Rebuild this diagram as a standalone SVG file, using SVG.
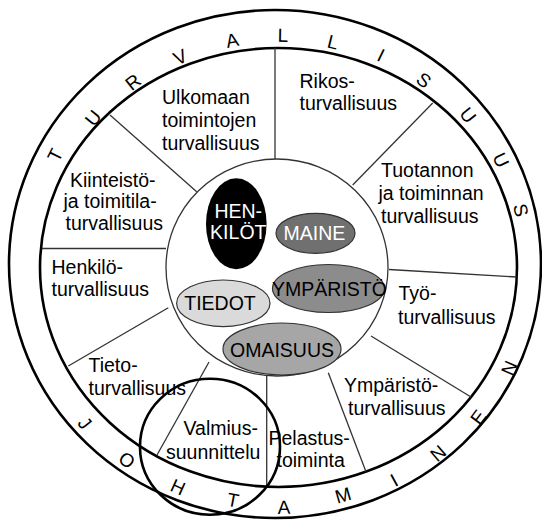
<svg xmlns="http://www.w3.org/2000/svg" width="542" height="521" viewBox="0 0 542 521">
<style>
text{font-family:"Liberation Sans",Arial,sans-serif;font-size:19.5px;fill:#000}
.ring{fill:none;stroke:#000;stroke-width:2.6}
.thin{fill:none;stroke:#333;stroke-width:1.3}
.div{stroke:#333;stroke-width:1.3;fill:none}
.band{font-size:19px;text-anchor:middle}
.core{text-anchor:middle}
.ell{stroke:#333;stroke-width:1.2}
</style>
<rect width="542" height="521" fill="#fff"/>
<g id="rings">
<ellipse class="ring" cx="275" cy="264" rx="266" ry="254"/>
<ellipse class="ring" cx="278.5" cy="267.5" rx="238.5" ry="219.5"/>
<ellipse class="thin" cx="277" cy="267.5" rx="111" ry="108.5"/>
</g>
<g id="connectors">
<line class="div" x1="275" y1="48" x2="275" y2="159"/>
<line class="div" x1="432.7" y1="103" x2="352.7" y2="185"/>
<line class="div" x1="389" y1="269.5" x2="516.5" y2="277"/>
<line class="div" x1="371" y1="336" x2="471" y2="397"/>
<line class="div" x1="328.3" y1="372.7" x2="366" y2="471.7"/>
<line class="div" x1="266.7" y1="376" x2="266.7" y2="487"/>
<line class="div" x1="209" y1="362" x2="157" y2="455"/>
<line class="div" x1="168.3" y1="307.7" x2="68.3" y2="366"/>
<line class="div" x1="42" y1="248.5" x2="166" y2="248.5"/>
<line class="div" x1="110" y1="115" x2="196.7" y2="191.7"/>
</g>
<g id="band-top">
<text class="band" transform="translate(55,155) rotate(-63.3)" y="6.8">T</text>
<text class="band" transform="translate(93,118) rotate(-51.2)" y="6.8">U</text>
<text class="band" transform="translate(133,82) rotate(-38.1)" y="6.8">R</text>
<text class="band" transform="translate(180,57) rotate(-25)" y="6.8">V</text>
<text class="band" transform="translate(232,40) rotate(-11.5)" y="6.8">A</text>
<text class="band" transform="translate(283,35) rotate(1.2)" y="6.8">L</text>
<text class="band" transform="translate(333,42) rotate(13.7)" y="6.8">L</text>
<text class="band" transform="translate(381,55) rotate(25.9)" y="6.8">I</text>
<text class="band" transform="translate(424,80) rotate(38)" y="6.8">S</text>
<text class="band" transform="translate(468,115) rotate(51.3)" y="6.8">U</text>
<text class="band" transform="translate(501,160) rotate(64.4)" y="6.8">U</text>
<text class="band" transform="translate(521,210) rotate(76.8)" y="6.8">S</text>
</g>
<g id="band-bottom">
<text class="band" transform="translate(85,423) rotate(51.1)" y="6.8">J</text>
<text class="band" transform="translate(127,460) rotate(38)" y="6.8">O</text>
<text class="band" transform="translate(178,487) rotate(24.4)" y="6.8">H</text>
<text class="band" transform="translate(233,500) rotate(10.9)" y="6.8">T</text>
<text class="band" transform="translate(284,507) rotate(-1.4)" y="6.8">A</text>
<text class="band" transform="translate(343,495) rotate(-15.9)" y="6.8">M</text>
<text class="band" transform="translate(394,480) rotate(-28.6)" y="6.8">I</text>
<text class="band" transform="translate(438,453) rotate(-40.7)" y="6.8">N</text>
<text class="band" transform="translate(478,417) rotate(-53.1)" y="6.8">E</text>
<text class="band" transform="translate(509,368) rotate(-66.4)" y="6.8">N</text>
</g>
<g id="ulkomaan"><text x="162" y="104">Ulkomaan</text><text x="162" y="127">toimintojen</text><text x="162" y="149.5">turvallisuus</text></g>
<g id="rikos"><text x="299.5" y="87.5">Rikos-</text><text x="299.5" y="110">turvallisuus</text></g>
<g id="tuotannon"><text x="381" y="177">Tuotannon</text><text x="378.5" y="200">ja toiminnan</text><text x="381" y="222.5">turvallisuus</text></g>
<g id="kiinteisto"><text x="70" y="186.5">Kiinteistö-</text><text x="63.5" y="207.5">ja toimitila-</text><text x="65.5" y="229.5">turvallisuus</text></g>
<g id="henkilo"><text x="51.5" y="273.5">Henkilö-</text><text x="51.5" y="296">turvallisuus</text></g>
<g id="tieto"><text x="88.5" y="372">Tieto-</text><text x="88.5" y="395">turvallisuus</text></g>
<g id="valmius"><text x="183.5" y="435">Valmius-</text><text x="166" y="459">suunnittelu</text></g>
<g id="pelastus"><text x="268.5" y="445">Pelastus-</text><text x="276.5" y="467">toiminta</text></g>
<g id="ymparisto-turv"><text x="344" y="391.5">Ympäristö-</text><text x="348" y="415">turvallisuus</text></g>
<g id="tyo"><text x="398.5" y="300">Työ-</text><text x="398" y="323.5">turvallisuus</text></g>
<g id="henkilot"><ellipse cx="236.3" cy="223.8" rx="30.3" ry="45.5" fill="#000"/><text class="core" x="238.3" y="218" style="fill:#fff">HEN-</text><text class="core" x="238.3" y="238.5" style="fill:#fff">KILÖT</text></g>
<g id="maine"><ellipse class="ell" cx="315.5" cy="233.3" rx="39.5" ry="20" fill="#707070"/><text class="core" x="314.5" y="240.3" style="fill:#fff">MAINE</text></g>
<g id="ymparisto"><ellipse class="ell" cx="328.5" cy="288.5" rx="56" ry="24" fill="#8c8c8c"/><text class="core" x="329.5" y="295.5">YMPÄRISTÖ</text></g>
<g id="tiedot"><ellipse class="ell" cx="223.3" cy="303.3" rx="46.7" ry="23.3" fill="#dadada"/><text class="core" x="220" y="310.3">TIEDOT</text></g>
<g id="omaisuus"><ellipse class="ell" cx="282" cy="349" rx="59" ry="26" fill="#a6a6a6"/><text class="core" x="282" y="356.5">OMAISUUS</text></g>
<g id="highlight"><ellipse cx="210" cy="446.7" rx="70" ry="68" fill="none" stroke="#000" stroke-width="2.6"/></g>
</svg>
